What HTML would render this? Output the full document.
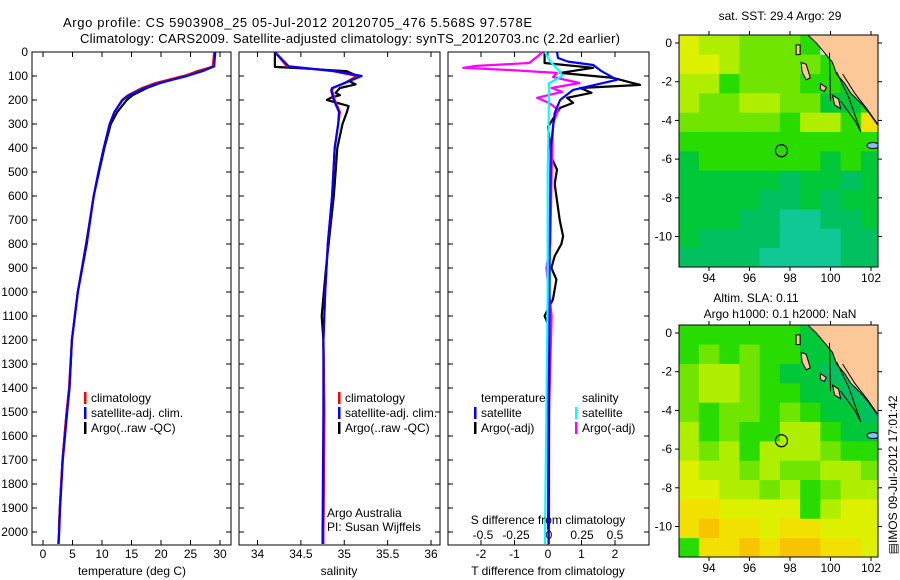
<!DOCTYPE html>
<html><head><meta charset="utf-8"><style>
html,body{margin:0;padding:0;background:#fff;}
svg{display:block;font-family:"Liberation Sans",sans-serif;}
</style></head><body>
<svg id="c" width="900" height="580" viewBox="0 0 900 580" xmlns="http://www.w3.org/2000/svg">
<text x="63" y="27" font-size="13" textLength="469" lengthAdjust="spacing">Argo profile: CS 5903908_25 05-Jul-2012 20120705_476 5.568S 97.578E</text>
<text x="80" y="43" font-size="13" textLength="540" lengthAdjust="spacing">Climatology: CARS2009. Satellite-adjusted climatology: synTS_20120703.nc (2.2d earlier)</text>
<g id="g"></g>
</svg>
<script>
// ---------- data ----------
const depthTicks=[0,100,200,300,400,500,600,700,800,900,1000,1100,1200,1300,1400,1500,1600,1700,1800,1900,2000];
const tempTicks=[0,5,10,15,20,25,30];
const salTicks=[34,34.5,35,35.5,36];
const salTickLabels=["34","34.5","35","35.5","36"];
const tdTicks=[-2,-1,0,1,2];
const sdTicks=[-0.5,-0.25,0,0.25,0.5];
const sdTickLabels=["-0.5","-0.25","0","0.25","0.5"];

const tDepth=[0,60,80,100,130,150,180,200,250,300,400,500,600,800,1000,1200,1400,1500,1700,1900,2000,2050];
const tClim=[29.0,28.8,26.5,23.8,19.0,16.8,14.4,13.4,12.1,11.3,10.3,9.4,8.6,7.4,5.9,4.9,4.4,4.0,3.3,2.85,2.7,2.6];
const tSat=[29.2,29.0,27.0,24.4,19.6,17.2,14.6,13.5,12.1,11.3,10.3,9.4,8.6,7.4,5.9,4.9,4.5,4.1,3.35,2.9,2.75,2.65];
const argoDepth=[0,60,80,100,130,150,180,200,250,300,400,500,600,800,1000,1200,1400,1500,1700,1900,1990];
const tArgo=[29.0,29.0,26.2,24.0,19.8,17.6,15.2,14.2,12.6,11.5,10.4,9.5,8.6,7.3,5.9,4.9,4.5,4.0,3.3,2.85,2.7];

const sDepth=[0,60,80,100,130,150,160,200,250,300,400,600,800,1000,1200,1500,2000,2050];
const sClim=[34.2,34.34,34.87,35.15,35.0,34.87,34.86,34.89,34.95,34.93,34.89,34.86,34.81,34.78,34.76,34.77,34.76,34.76];
const sSat=[34.2,34.36,34.9,35.2,35.0,34.86,34.85,34.88,34.94,34.93,34.89,34.86,34.81,34.78,34.76,34.76,34.75,34.75];
const sArgoDepth=[0,62,70,80,100,120,135,150,170,180,190,200,210,225,250,300,400,500,600,800,900,1100,1200,1500,1990];
const sArgo=[34.2,34.2,34.6,35.03,35.15,35.05,35.13,34.95,34.9,34.95,34.85,34.8,34.9,35.05,35.03,34.98,34.92,34.9,34.88,34.82,34.79,34.74,34.76,34.77,34.76];

const dTDepth=[0,25,40,54,80,116,158,200,254,400,800,1200,1600,2000,2050];
const dTSat=[0.27,0.3,0.6,1.35,1.6,2.06,0.75,0.36,0.2,0.08,0.05,0.04,0.03,0.02,0.02];
const dTArgoDepth=[0,46,66,87,108,137,150,170,191,212,233,311,440,490,550,700,768,800,850,900,948,1030,1100,1150,1300,1990];
const dTArgo=[-0.1,-0.1,1.35,0.36,1.95,2.75,0.96,1.3,0.57,0.75,0.36,0.0,0.1,0.27,0.2,0.35,0.45,0.4,0.2,0.1,0.25,0.15,-0.1,0.05,0.02,0.0];
const dSDepth=[0,40,80,100,130,200,500,1000,1500,2000,2050];
const dSSat=[-0.03,0.01,0.08,0.1,0.0,0.0,-0.01,-0.01,-0.02,-0.03,-0.03];
const dSArgoDepth=[0,20,46,58,66,75,83,87,104,129,150,166,191,212,241,300,500,800,900,1100,1500,1990];
const dSArgo=[-0.05,-0.09,-0.15,-0.55,-0.65,-0.3,-0.07,0.06,0.03,0.23,0.02,0.1,-0.09,0.0,0.07,0.03,0.02,0.01,-0.02,0.02,0.0,0.0];

const mapLonTicks=[94,96,98,100,102];
const mapLatTicks=[0,-2,-4,-6,-8,-10];
const sstGrid=[
[6,5,5,4,4,4,3,-1,-1,3],
[6,6,5,4,4,4,4,3,-1,3],
[5,5,3,4,4,4,3,3,2,2],
[5,4,4,5,5,4,4,2,2,3],
[4,4,4,4,4,3,5,5,3,7],
[3,3,3,3,3,3,3,3,3,3],
[2,3,3,3,3,3,3,2,3,2],
[2,2,2,2,2,1,2,2,1,2],
[2,2,2,2,1,1,2,1,2,2],
[2,2,2,1,1,0,0,1,1,2],
[2,1,1,1,1,0,0,0,1,1],
[1,1,1,1,0,0,0,0,1,1]];
const slaGrid=[
[3,3,3,3,3,3,2,2,2,2],
[3,4,3,4,3,3,2,2,1,1],
[4,5,5,4,3,2,2,1,1,1],
[4,5,5,4,3,3,2,2,1,1],
[4,3,4,4,3,4,3,2,2,1],
[5,3,4,3,3,5,5,3,2,2],
[5,4,5,3,5,5,5,4,3,3],
[6,5,5,4,5,4,4,5,5,4],
[6,6,5,5,4,5,3,4,5,5],
[7,7,6,6,6,6,3,5,6,6],
[7,8,7,7,6,7,7,6,6,6],
[3,7,7,8,7,8,8,7,7,6]];
const argoLon=97.578, argoLat=-5.568;

// ---------- drawing ----------
const NS="http://www.w3.org/2000/svg";
const G=document.getElementById('g');
function el(tag,attrs,parent){const e=document.createElementNS(NS,tag);for(const k in attrs)e.setAttribute(k,attrs[k]);(parent||G).appendChild(e);return e;}
function txt(x,y,s,size,anchor,parent){const t=el('text',{x:x,y:y,'font-size':size||12,'text-anchor':anchor||'start'},parent);t.textContent=s;return t;}

const TOP=52,BOT=545;
const yD=d=>TOP+d*0.24;
function lin(d0,d1,r0,r1){return v=>r0+(v-d0)*(r1-r0)/(d1-d0);}

const panels=[
 {name:'temperature-panel',x0:32,x1:231,xs:lin(0,30,43,220)},
 {name:'salinity-panel',x0:239,x1:440,xs:lin(34,36,257.5,431)},
 {name:'difference-panel',x0:448,x1:649,xs:lin(-2,2,481,615)}
];
const xsS=lin(-0.5,0.5,483,615);

panels.forEach((p,i)=>{
 const g=el('g',{});
 
 
 el('rect',{x:p.x0,y:TOP,width:p.x1-p.x0,height:BOT-TOP,fill:'#fff',stroke:'#000','stroke-width':1},g);
 depthTicks.forEach(d=>{
  el('line',{x1:p.x0,x2:p.x0+5,y1:yD(d),y2:yD(d),stroke:'#000'},g);
  el('line',{x1:p.x1-5,x2:p.x1,y1:yD(d),y2:yD(d),stroke:'#000'},g);
 });
 p.g=g;
});
depthTicks.forEach(d=>{const t=txt(28,yD(d)+4,String(d),12,'end');});

function xticks(p,ticks,labels,fn,ly){
 ticks.forEach((v,i)=>{const x=fn(v);
  el('line',{x1:x,x2:x,y1:BOT,y2:BOT-5,stroke:'#000'},p.g);
  el('line',{x1:x,x2:x,y1:TOP,y2:TOP+5,stroke:'#000'},p.g);
  const t=txt(x,ly,labels?labels[i]:String(v),12,'middle');
  
  
 });
}
xticks(panels[0],tempTicks,null,panels[0].xs,558);
xticks(panels[1],salTicks,salTickLabels,panels[1].xs,558);
xticks(panels[2],tdTicks,null,panels[2].xs,558);
sdTicks.forEach((v,i)=>{const t=txt(xsS(v),539,sdTickLabels[i],12,'middle');});

function axTitle(x,y,s,name){const t=txt(x,y,s,12,'middle');}
axTitle(132,575,'temperature (deg C)','x-axis-title-temperature');
axTitle(339,575,'salinity','x-axis-title-salinity');
axTitle(548,575,'T difference from climatology','x-axis-title-t-diff');
axTitle(548,524,'S difference from climatology','x-axis-title-s-diff');

function series(depths,vals,fn,color,name,parent){
 const pts=depths.map((d,i)=>fn(vals[i]).toFixed(1)+','+yD(d).toFixed(1)).join(' ');
 const l=el('polyline',{points:pts,fill:'none',stroke:color,'stroke-width':2.2,'stroke-linejoin':'round'},parent);
 
 
}
const P=panels;
series(argoDepth,tArgo,P[0].xs,'#000','temp-argo-line',P[0].g);
series(tDepth,tClim,P[0].xs,'#f00','temp-climatology-line',P[0].g);
series(tDepth,tSat,P[0].xs,'#00f','temp-satellite-line',P[0].g);
series(sArgoDepth,sArgo,P[1].xs,'#000','salinity-argo-line',P[1].g);
series(sDepth,sClim,P[1].xs,'#f00','salinity-climatology-line',P[1].g);
series(sDepth,sSat,P[1].xs,'#00f','salinity-satellite-line',P[1].g);
series(dTArgoDepth,dTArgo,P[2].xs,'#000','t-diff-argo-line',P[2].g);
series(dSArgoDepth,dSArgo,xsS,'#f0f','s-diff-argo-line',P[2].g);
series(dTDepth,dTSat,P[2].xs,'#00f','t-diff-satellite-line',P[2].g);
series(dSDepth,dSSat,xsS,'#0ff','s-diff-satellite-line',P[2].g);

function legend(x,y,color,label){
 const g=el('g',{});
 
 
 el('rect',{x:x,y:y-10,width:2.5,height:12,fill:color},g);
 txt(x+7,y,label,12,'start',g);
}
[[398,'#f00','climatology'],[413,'#00f','satellite-adj. clim.'],[428,'#000','Argo(..raw -QC)']].forEach(r=>{legend(84,r[0]+4,r[1],r[2]);legend(338,r[0]+4,r[1],r[2]);});
txt(481,402,'temperature',12);
txt(582,402,'salinity',12);
legend(474,417,'#00f','satellite');legend(474,432,'#000','Argo(-adj)');
legend(575,417,'#0ff','satellite');legend(575,432,'#f0f','Argo(-adj)');
txt(327,517,'Argo Australia',12);
txt(327,531,'PI: Susan Wijffels',12);

// ---------- maps ----------
const palette=['#10c894','#00c060','#00c838','#28dc00','#70e600','#b0ee00','#dcf000','#f2e000','#f8c400'];
function drawMap(top,bot,grid,name){
 const L=679,R=878;
 const xl=lin(94,102,709,871), yl=lin(0,-10,top+8,top+8+193.5*(bot-top)/232);
 const g=el('g',{});
 
 
 const cid='clip'+top;
 const cp=el('clipPath',{id:cid},g);el('rect',{x:L,y:top,width:R-L,height:bot-top},cp);
 const inner=el('g',{'clip-path':'url(#'+cid+')'},g);
 grid.forEach((row,r)=>row.forEach((v,c)=>{
  const x0=xl(92.5+c),y0=yl(0.4-r);
  const cell=el('rect',{x:x0,y:y0,width:xl(93.5+c)-x0+0.5,height:yl(-0.6-r)-y0+0.5,fill:v<0?'#fff':palette[v]},inner);
  
  
 }));
 const poly=a=>a.map(p=>xl(p[0]).toFixed(1)+','+yl(p[1]).toFixed(1)).join(' ');
 const land=[[98.8,0.5],[99.3,0],[99.7,-0.5],[100.1,-1.0],[100.3,-1.6],[100.7,-2.1],[101.0,-2.6],[101.4,-3.0],[101.9,-3.6],[102.3,-4.2],[102.5,-4.4],[102.5,0.5]];
 const lp=el('polygon',{points:poly(land),fill:'#fcc898',stroke:'#000','stroke-width':1},inner);
 
 [[[98.3,-0.1],[98.5,-0.1],[98.5,-0.6],[98.3,-0.6]],[[98.55,-1.0],[98.8,-1.1],[99.0,-1.8],[98.8,-1.9],[98.6,-1.5]],[[99.5,-2.1],[99.8,-2.3],[99.7,-2.5],[99.5,-2.4]],[[100.1,-2.7],[100.4,-2.9],[100.5,-3.4],[100.2,-3.2]]].forEach(is=>{
  const ip=el('polygon',{points:poly(is),fill:'#fcc898',stroke:'#000','stroke-width':1},inner);
  
 });
 el('polyline',{points:poly([[99.95,-0.5],[100.0,-3.0]]),fill:'none',stroke:'#000'},inner);
 el('polyline',{points:poly([[100.3,-1.5],[100.9,-2.8],[101.5,-4.6],[101.2,-4.0],[100.5,-3.0]]),fill:'none',stroke:'#000'},inner);
 el('polyline',{points:poly([[100.6,-1.6],[101.2,-2.6],[101.8,-3.4],[102.4,-4.3]]),fill:'none',stroke:'#000'},inner);
 el('ellipse',{cx:xl(102.1),cy:yl(-5.3),rx:6,ry:3,fill:'#80c0ff',stroke:'#000'},inner);
 el('rect',{x:L,y:top,width:R-L,height:bot-top,fill:'none',stroke:'#000'},g);
 const circ=el('circle',{cx:xl(argoLon),cy:yl(argoLat),r:6,fill:'none',stroke:'#000','stroke-width':1.2},g);
 
 mapLonTicks.forEach(v=>{const x=xl(v);
  el('line',{x1:x,x2:x,y1:top,y2:top-4,stroke:'#000'},g);el('line',{x1:x,x2:x,y1:bot,y2:bot+4,stroke:'#000'},g);
  const t=txt(x,bot+15,String(v),12,'middle',g);});
 mapLatTicks.forEach(v=>{const y=yl(v);
  el('line',{x1:L,x2:L-4,y1:y,y2:y,stroke:'#000'},g);el('line',{x1:R,x2:R+4,y1:y,y2:y,stroke:'#000'},g);
  const t=txt(672,y+4,String(v),12,'end',g);});
}
drawMap(35,267,sstGrid,'sst-map');
drawMap(325,557,slaGrid,'sla-map');
txt(780,20,'sat. SST: 29.4  Argo: 29',12,'middle');
txt(756,302,'Altim. SLA: 0.11',12,'middle');
txt(780,318,'Argo h1000: 0.1 h2000: NaN',12,'middle');
const v=txt(0,0,'\u25A4IMOS 09-Jul-2012 17:01:42',12,'middle');
v.setAttribute('transform','translate(897,475) rotate(-90)');


</script>
</body></html>
